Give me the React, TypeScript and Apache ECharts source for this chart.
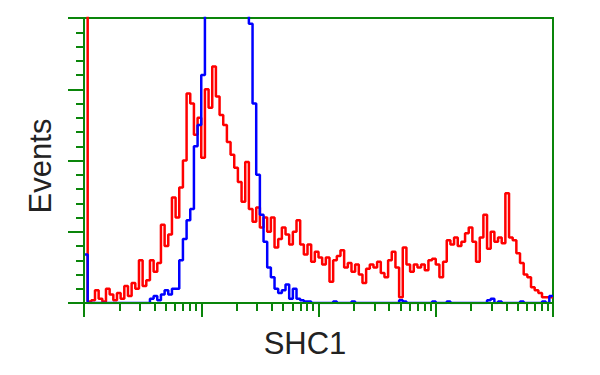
import React, { useEffect, useRef } from "react";
import * as echarts from "echarts";

// Histogram: 128 bins of 2 channels over a 256-channel, 4-decade log scale
const BIN_WIDTH = 2;
const CHANNEL_MAX = 256;
const DECADE = 64;
const Y_MAX = 200;
const Y_INTERVAL = 50;

const redCounts = [
  250, 1, 2, 9, 3, 1, 10, 6, 2, 7, 3, 12, 5, 14, 10, 30,
  12, 16, 30, 22, 28, 55, 40, 48, 74, 60, 81, 100, 147, 140, 118, 130,
  102, 150, 137, 166, 145, 132, 125, 113, 104, 95, 85, 71, 99, 66, 57, 67,
  53, 60, 50, 60, 39, 45, 53, 48, 41, 50, 58, 41, 34, 41, 29, 36,
  32, 27, 32, 15, 30, 33, 37, 25, 28, 22, 27, 20, 14, 24, 27, 25,
  29, 21, 18, 30, 36, 25, 4, 39, 27, 22, 27, 25, 27, 23, 30, 31,
  27, 18, 29, 44, 41, 46, 40, 43, 49, 53, 43, 29, 46, 62, 38, 50,
  43, 46, 42, 77, 46, 44, 35, 28, 20, 18, 11, 9, 7, 4, 4, 4,
];

const blueCounts = [
  34, 0, 0, 0, 0, 0, 0, 0, 0, 0, 0, 0, 0, 0, 0, 0,
  0, 0, 3, 5, 2, 6, 9, 6, 10, 10, 30, 45, 58, 66, 110, 125,
  160, 240, 320, 380, 420, 430, 410, 370, 330, 280, 240, 220, 210, 196, 140, 90,
  62, 43, 25, 18, 10, 7, 9, 13, 3, 10, 3, 2, 1, 1, 0, 0,
  0, 0, 0, 0, 1, 0, 0, 0, 0, 1, 0, 0, 0, 0, 0, 0,
  0, 0, 0, 0, 0, 0, 2, 1, 0, 0, 0, 0, 0, 0, 0, 1,
  0, 0, 0, 1, 0, 0, 0, 0, 0, 0, 0, 0, 0, 0, 2, 3,
  0, 1, 0, 0, 0, 0, 0, 1, 0, 0, 0, 0, 0, 1, 0, 5,
];

const xAxisTitle = "SHC1";
const yAxisTitle = "Events";

const GREEN = "#0a850a";
const FONT = "'Liberation Sans', Arial, sans-serif";

function toStepPoints(counts: number[]) {
  const pts = counts.map((v, i) => [i * BIN_WIDTH, v]);
  pts.push([counts.length * BIN_WIDTH, counts[counts.length - 1]]);
  return pts;
}

const minorLogTicks: number[] = [];
for (let d = 0; d < CHANNEL_MAX / DECADE; d++) {
  for (let k = 2; k <= 9; k++) {
    minorLogTicks.push(d * DECADE + DECADE * Math.log10(k));
  }
}

export default function App() {
  const ref = useRef<HTMLDivElement>(null);
  useEffect(() => {
    if (!ref.current) return;
    const chart = echarts.init(ref.current, undefined, { renderer: "svg" });
    const lineAxis = { show: true, lineStyle: { color: GREEN, width: 2 } };
    chart.setOption({
      animation: false,
      backgroundColor: "#ffffff",
      grid: {
        left: 84,
        right: 47,
        top: 18,
        bottom: 72,
        show: true,
        borderColor: GREEN,
        borderWidth: 2,
        backgroundColor: "transparent",
      },
      xAxis: [
        {
          type: "value",
          min: 0,
          max: CHANNEL_MAX,
          interval: DECADE,
          position: "bottom",
          z: 3,
          axisLine: lineAxis,
          axisTick: { show: true, inside: false, length: 14, lineStyle: { color: GREEN, width: 2 } },
          axisLabel: { show: false },
          splitLine: { show: false },
        },
        {
          type: "value",
          min: 0,
          max: CHANNEL_MAX,
          position: "bottom",
          offset: 0,
          z: 3,
          axisLine: { show: false },
          axisTick: {
            show: true,
            inside: false,
            length: 8,
            customValues: minorLogTicks,
            lineStyle: { color: GREEN, width: 2 },
          },
          axisLabel: { show: false },
          splitLine: { show: false },
        },
      ],
      yAxis: {
        type: "value",
        min: 0,
        max: Y_MAX,
        interval: Y_INTERVAL,
        z: 3,
        axisLine: lineAxis,
        axisTick: { show: true, inside: false, length: 16, lineStyle: { color: GREEN, width: 2 } },
        minorTick: { show: true, splitNumber: 5, length: 8, lineStyle: { color: GREEN, width: 2 } },
        axisLabel: { show: false },
        splitLine: { show: false },
        minorSplitLine: { show: false },
      },
      series: [
        {
          type: "line",
          name: "red",
          step: "end",
          symbol: "none",
          clip: true,
          z: 2,
          lineStyle: { color: "#ff0000", width: 2.5 },
          data: toStepPoints(redCounts),
        },
        {
          type: "line",
          name: "blue",
          step: "end",
          symbol: "none",
          clip: true,
          z: 2,
          lineStyle: { color: "#0000ff", width: 2.5 },
          data: toStepPoints(blueCounts),
        },
      ],
      graphic: [
        {
          type: "text",
          x: 40,
          y: 166,
          rotation: Math.PI / 2,
          style: {
            text: yAxisTitle,
            fontSize: 31,
            fontFamily: FONT,
            fill: "#222222",
            align: "center",
            verticalAlign: "middle",
          },
        },
        {
          type: "text",
          x: 305,
          y: 343,
          style: {
            text: xAxisTitle,
            fontSize: 31,
            fontFamily: FONT,
            fill: "#222222",
            align: "center",
            verticalAlign: "middle",
          },
        },
      ],
    });
    return () => chart.dispose();
  }, []);
  return (
    <div
      ref={ref}
      style={{ position: "fixed", left: 0, top: 0, width: 600, height: 375, background: "#fff" }}
    />
  );
}
